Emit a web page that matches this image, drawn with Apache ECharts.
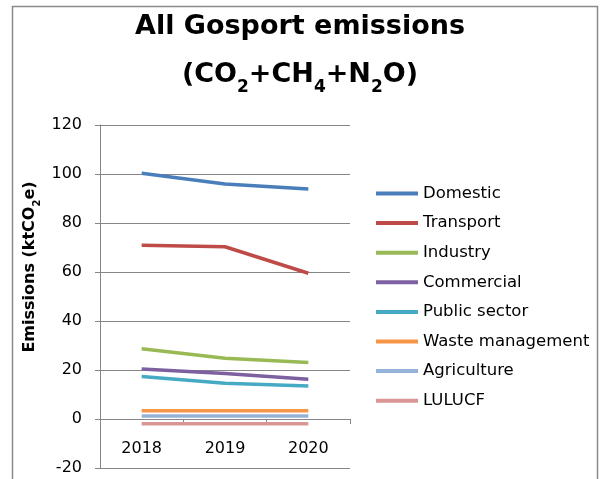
<!DOCTYPE html>
<html>
<head>
<meta charset="utf-8">
<script src="https://cdn.jsdelivr.net/npm/echarts@6/dist/echarts.min.js"></script>
<style>
  html, body { margin: 0; padding: 0; background: #fff; }
  #chart { width: 600px; height: 479px; }
</style>
</head>
<body>
<div id="chart"></div>
<script>
// Gosport emissions by sector, ktCO2e
const years = ['2018', '2019', '2020'];
const domestic = [100.3, 95.9, 93.9];
const transport = [70.9, 70.3, 59.5];
const industry = [28.7, 24.8, 23.1];
const commercial = [20.4, 18.6, 16.2];
const publicSector = [17.3, 14.6, 13.5];
const wasteManagement = [3.4, 3.4, 3.4];
const agriculture = [1.2, 1.2, 1.2];
const lulucf = [-1.9, -1.9, -1.9];

const seriesNames = ['Domestic', 'Transport', 'Industry', 'Commercial',
  'Public sector', 'Waste management', 'Agriculture', 'LULUCF'];
const seriesData = [domestic, transport, industry, commercial,
  publicSector, wasteManagement, agriculture, lulucf];
const seriesColors = ['#4a7ebb', '#be4b48', '#98b954', '#7d60a0',
  '#46aac5', '#f79646', '#95b3d7', '#d99694'];

const FONT = 'DejaVu Sans';
const Y_MIN = -20, Y_MAX = 120;
const GRID = { left: 100, right: 250, top: 125, bottom: 11 };
const chart = echarts.init(document.getElementById('chart'), null, { renderer: 'canvas' });

// the category axis sits on the zero line, so shift it up from the grid bottom
const plotHeight = 479 - GRID.top - GRID.bottom;
const zeroOffset = plotHeight * (0 - Y_MIN) / (Y_MAX - Y_MIN);

chart.setOption({
  backgroundColor: '#ffffff',
  animation: false,
  graphic: [{
    type: 'rect',
    shape: { x: 12.5, y: 6.5, width: 585, height: 490 },
    style: { fill: 'none', stroke: '#8a8a8a', lineWidth: 1.5 },
    z: -1
  }, {
    type: 'text',
    x: 30,
    y: 267,
    rotation: Math.PI / 2,
    style: {
      text: '{b|Emissions (ktCO}{s|2}{b|e)}',
      align: 'center',
      verticalAlign: 'middle',
      rich: {
        b: { fontFamily: FONT, fontSize: 16, fontWeight: 'bold', fill: '#000', lineHeight: 20 },
        s: { fontFamily: FONT, fontSize: 10, fontWeight: 'bold', fill: '#000', verticalAlign: 'bottom', lineHeight: 20, padding: [0, 0, -2, 0] }
      }
    }
  }],
  title: [{
    text: 'All Gosport emissions',
    left: 'center',
    top: 8,
    textStyle: { fontFamily: FONT, fontSize: 27, fontWeight: 'bold', color: '#000' }
  }, {
    text: '{b|(CO}{s|2}{b|+CH}{s|4}{b|+N}{s|2}{b|O)}',
    left: 'center',
    top: 52,
    textStyle: {
      rich: {
        b: { fontFamily: FONT, fontSize: 27, fontWeight: 'bold', color: '#000', lineHeight: 36 },
        s: { fontFamily: FONT, fontSize: 17, fontWeight: 'bold', color: '#000', verticalAlign: 'bottom', lineHeight: 36, padding: [0, 0, -3, 0] }
      }
    }
  }],
  legend: {
    orient: 'vertical',
    left: 376,
    top: 185,
    padding: 0,
    itemWidth: 42,
    itemHeight: 4,
    itemGap: 12.6,
    icon: 'rect',
    textStyle: { fontFamily: FONT, fontSize: 16.5, color: '#000' },
    data: seriesNames
  },
  grid: { left: GRID.left, right: GRID.right, top: GRID.top, bottom: GRID.bottom, containLabel: false, outerBoundsMode: 'none' },
  xAxis: {
    type: 'category',
    data: years,
    boundaryGap: true,
    offset: -zeroOffset,
    axisLine: { onZero: false, lineStyle: { color: '#868686', width: 1 } },
    axisTick: { show: true, length: 5, lineStyle: { color: '#868686' } },
    axisLabel: { fontFamily: FONT, fontSize: 16, color: '#000', margin: 22 }
  },
  yAxis: {
    type: 'value',
    min: Y_MIN,
    max: Y_MAX,
    interval: 20,
    axisLine: { show: true, lineStyle: { color: '#868686', width: 1 } },
    axisTick: { show: true, length: 5, lineStyle: { color: '#868686' } },
    axisLabel: { fontFamily: FONT, fontSize: 16, color: '#000', margin: 18 },
    splitLine: { show: true, lineStyle: { color: '#868686', width: 1 } }
  },
  series: seriesNames.map((name, i) => ({
    name: name,
    type: 'line',
    data: seriesData[i],
    symbol: 'none',
    color: seriesColors[i],
    lineStyle: { width: 3.5, color: seriesColors[i] },
    itemStyle: { color: seriesColors[i] },
    z: 10 - i
  }))
});
</script>
</body>
</html>
